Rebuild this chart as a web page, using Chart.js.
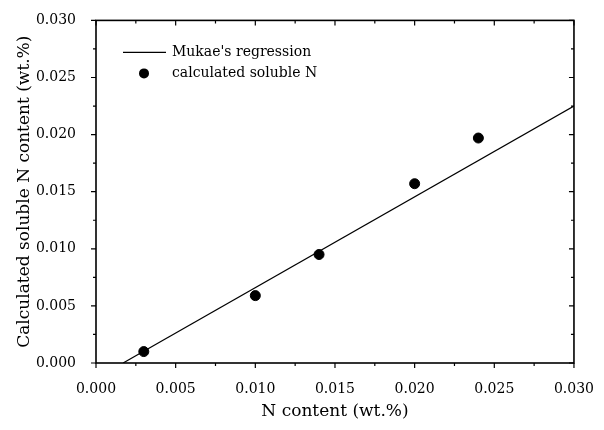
<!DOCTYPE html>
<html>
<head>
<meta charset="utf-8">
<script src="https://cdn.jsdelivr.net/npm/chart.js@4"></script>
<style>
  body{ margin:0; background:#fff; }
  #wrap{ width:604px; height:430px; }
</style>
</head>
<body>
<div id="wrap"><canvas id="chart" width="604" height="430"></canvas></div>
<script>
//--------------------------------------------------
// DATA
//--------------------------------------------------
const nContent   = [0.003, 0.010, 0.014, 0.020, 0.024];
const solubleN   = [0.001, 0.0059, 0.0095, 0.0157, 0.0197];
const regX       = [0.0017, 0.030];
const regY       = [0.0, 0.0225];
const xTicks     = [0.000, 0.005, 0.010, 0.015, 0.020, 0.025, 0.030];
const yTicks     = [0.000, 0.005, 0.010, 0.015, 0.020, 0.025, 0.030];
const seriesNames = ["Mukae's regression", "calculated soluble N"];

const FONT = "'DejaVu Serif', 'Liberation Serif', serif";

//--------------------------------------------------
// frame, ticks and legend drawn on top of the scales
//--------------------------------------------------
const framePlugin = {
  id:"frame",
  afterDraw(chart){
    const {ctx, chartArea:a, scales:{x, y}} = chart;
    ctx.save();
    ctx.strokeStyle = "#000";
    ctx.lineWidth = 1.6;
    ctx.strokeRect(a.left, a.top, a.right - a.left, a.bottom - a.top);

    ctx.lineWidth = 1.2;
    const minor = v => v + 0.0025;
    // x ticks: bottom outward, top inward
    xTicks.forEach(v=>{
      const px = x.getPixelForValue(v);
      ctx.beginPath();
      ctx.moveTo(px, a.bottom); ctx.lineTo(px, a.bottom + 5);
      ctx.moveTo(px, a.top);    ctx.lineTo(px, a.top + 5);
      ctx.stroke();
      if(v < 0.03){
        const pm = x.getPixelForValue(minor(v));
        ctx.beginPath();
        ctx.moveTo(pm, a.bottom); ctx.lineTo(pm, a.bottom + 3);
        ctx.moveTo(pm, a.top);    ctx.lineTo(pm, a.top + 3);
        ctx.stroke();
      }
    });
    // y ticks: left outward, right inward
    yTicks.forEach(v=>{
      const py = y.getPixelForValue(v);
      ctx.beginPath();
      ctx.moveTo(a.left, py);  ctx.lineTo(a.left - 5, py);
      ctx.moveTo(a.right, py); ctx.lineTo(a.right - 5, py);
      ctx.stroke();
      if(v < 0.03){
        const pm = y.getPixelForValue(minor(v));
        ctx.beginPath();
        ctx.moveTo(a.left, pm);  ctx.lineTo(a.left - 3, pm);
        ctx.moveTo(a.right, pm); ctx.lineTo(a.right - 3, pm);
        ctx.stroke();
      }
    });

    // legend
    ctx.font = "14px " + FONT;
    ctx.fillStyle = "#000";
    ctx.textBaseline = "middle";
    ctx.textAlign = "left";
    ctx.lineWidth = 1.2;
    ctx.beginPath();
    ctx.moveTo(a.left + 27, a.top + 32);
    ctx.lineTo(a.left + 70, a.top + 32);
    ctx.stroke();
    ctx.fillText(seriesNames[0], a.left + 76, a.top + 32);
    ctx.beginPath();
    ctx.arc(a.left + 48, a.top + 53, 5, 0, Math.PI * 2);
    ctx.fill();
    ctx.fillText(seriesNames[1], a.left + 76, a.top + 53);
    ctx.restore();
  }
};

//--------------------------------------------------
// CHART
//--------------------------------------------------
new Chart(document.getElementById("chart"), {
  type:"scatter",
  data:{
    datasets:[
      {
        label:seriesNames[0],
        data:regX.map((v,i)=>({x:v, y:regY[i]})),
        showLine:true,
        borderColor:"#000",
        borderWidth:1.2,
        pointRadius:0,
        fill:false
      },
      {
        label:seriesNames[1],
        data:nContent.map((v,i)=>({x:v, y:solubleN[i]})),
        backgroundColor:"#000",
        borderColor:"#000",
        pointRadius:5,
        pointHoverRadius:5
      }
    ]
  },
  options:{
    responsive:false,
    animation:false,
    layout:{ padding:{ left:14, top:16, right:30, bottom:0 } },
    plugins:{ legend:{ display:false }, tooltip:{ enabled:false } },
    scales:{
      x:{
        type:"linear", min:0, max:0.03,
        afterBuildTicks:s=>{ s.ticks = xTicks.map(v=>({value:v})); },
        afterFit:s=>{ s.height = 67; },
        grid:{ display:false },
        border:{ display:false },
        ticks:{ padding:10, color:"#000", font:{ family:FONT, size:14 },
                callback:v=>v.toFixed(3) },
        title:{ display:true, text:"N content (wt.%)", color:"#000",
                font:{ family:FONT, size:17 }, padding:{ top:0, bottom:8 } }
      },
      y:{
        type:"linear", min:0, max:0.03,
        afterBuildTicks:s=>{ s.ticks = yTicks.map(v=>({value:v})); },
        afterFit:s=>{ s.width = 82; },
        grid:{ display:false },
        border:{ display:false },
        ticks:{ padding:12, color:"#000", font:{ family:FONT, size:14 },
                callback:v=>v.toFixed(3) },
        title:{ display:true, text:"Calculated soluble N content (wt.%)", color:"#000",
                font:{ family:FONT, size:17 }, padding:{ top:0, bottom:0 } }
      }
    }
  },
  plugins:[framePlugin]
});
</script>
</body>
</html>
